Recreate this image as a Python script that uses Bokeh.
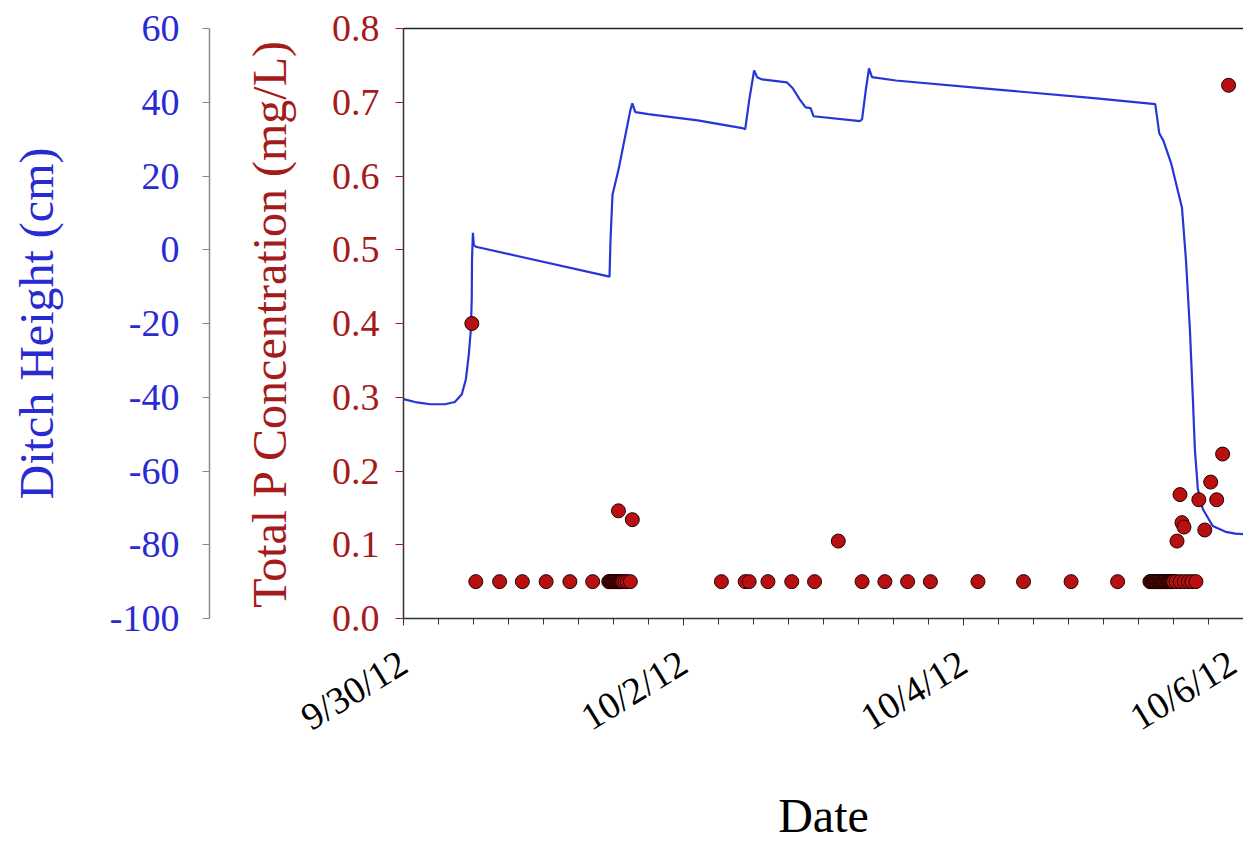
import pandas as pd
from bokeh.plotting import figure
from bokeh.models import Range1d, LinearAxis, FixedTicker, PrintfTickFormatter
from bokeh.embed import file_html
from bokeh.resources import INLINE

# ---------------- data ----------------
# x values: hours since 9/30/12 00:00
ditch_hours = [0.0, 2.0, 4.6, 7.1, 8.8, 10.0, 10.7, 11.2, 11.55, 11.7, 11.75, 11.9, 12.06, 12.4,
               35.33, 35.5, 35.84, 36.86, 38.22, 38.9, 39.24, 39.75, 41.95, 50.45, 58.09,
               58.6, 59.28, 60.13, 60.64, 61.49, 65.73, 66.75, 67.94, 68.96, 69.81, 70.32,
               78.3, 78.64, 79.32, 79.83, 80.34, 84.42, 101.4, 118.39, 128.92, 129.6,
               130.28, 131.63, 133.5, 134.18, 134.86, 135.37, 135.71, 136.22, 137.07,
               138.77, 140.98, 142.67, 144.05]
ditch_cm = [-40.5, -41.3, -41.9, -41.9, -41.3, -39.2, -35.1, -28.4, -21.6, -13.5, -2.7, 4.6, 1.3, 0.8,
            -7.3, 2.7, 14.9, 21.6, 32.4, 37.8, 39.7, 37.3, 36.8, 35.1, 33.0,
            32.7, 40.5, 48.6, 46.8, 46.2, 45.4, 43.8, 40.8, 38.6, 38.4, 36.2,
            34.9, 35.4, 43.8, 49.2, 46.8, 45.9, 43.5, 41.1, 39.5, 31.6,
            29.7, 23.5, 11.4, -2.7, -21.6, -40.5, -54.1, -64.9, -70.3,
            -74.9, -76.5, -77.0, -77.1]

tp_hours = [11.72, 12.4, 16.48, 20.38, 24.46, 28.53, 32.44,
            35.2, 35.35, 35.5, 35.65, 35.8, 35.95, 36.1, 36.25, 36.4, 36.55, 36.7, 36.85, 37.0,
            37.15, 37.3, 37.45, 37.6, 38.0, 38.4, 38.9,
            36.86, 39.24,
            54.52, 58.6, 59.28, 62.5, 66.58, 70.49, 74.56, 78.64, 82.55, 86.45, 90.36,
            98.51, 106.33, 114.48, 122.46,
            128.0, 128.15, 128.3, 128.45, 128.6, 128.75, 128.9, 129.05, 129.2, 129.35, 129.5,
            129.65, 129.8, 129.95, 130.1, 130.25, 130.4, 130.55, 130.7, 130.85, 131.0,
            131.15, 131.3, 131.45, 131.6, 131.75, 131.9, 132.05,
            132.5, 133.2, 133.9, 134.6, 135.2, 135.9,
            132.65, 133.16, 133.5, 133.84, 136.39, 137.41, 138.43, 139.45, 140.47, 141.49]
tp_conc = [0.40, 0.05, 0.05, 0.05, 0.05, 0.05, 0.05,
           0.05, 0.05, 0.05, 0.05, 0.05, 0.05, 0.05, 0.05, 0.05, 0.05, 0.05, 0.05, 0.05,
           0.05, 0.05, 0.05, 0.05, 0.05, 0.05, 0.05,
           0.146, 0.134,
           0.05, 0.05, 0.05, 0.05, 0.05, 0.05, 0.105, 0.05, 0.05, 0.05, 0.05,
           0.05, 0.05, 0.05, 0.05,
           0.05, 0.05, 0.05, 0.05, 0.05, 0.05, 0.05, 0.05, 0.05, 0.05, 0.05,
           0.05, 0.05, 0.05, 0.05, 0.05, 0.05, 0.05, 0.05, 0.05, 0.05,
           0.05, 0.05, 0.05, 0.05, 0.05, 0.05, 0.05,
           0.05, 0.05, 0.05, 0.05, 0.05, 0.05,
           0.105, 0.168, 0.130, 0.124, 0.161, 0.120, 0.185, 0.161, 0.223, 0.723]

date_tick_hours = [0, 48, 96, 144]
date_tick_labels = ["9/30/12", "10/2/12", "10/4/12", "10/6/12"]
tp_ticks = [0.0, 0.1, 0.2, 0.3, 0.4, 0.5, 0.6, 0.7, 0.8]
ditch_ticks = [-100, -80, -60, -40, -20, 0, 20, 40, 60]

# ---------------- styling ----------------
FONT = "Liberation Serif"
RED = "#a51a1a"
BLUE = "#2a2ad2"
LINE_BLUE = "#2536d8"

p = figure(width=1243, height=844, output_backend="svg", toolbar_location=None,
           x_range=Range1d(0, 144.05), y_range=Range1d(0, 0.8),
           min_border_left=403, min_border_right=0, min_border_top=28,
           min_border_bottom=224)
p.extra_y_ranges = {"ditch": Range1d(-100, 60)}
p.background_fill_color = "white"
p.border_fill_color = "white"
p.outline_line_color = None
p.xgrid.visible = False
p.ygrid.visible = False

# x axis
xa = p.xaxis[0]
xa.ticker = FixedTicker(ticks=date_tick_hours,
                        minor_ticks=[6 * i for i in range(25)])
xa.major_label_overrides = {h: lab for h, lab in zip(date_tick_hours, date_tick_labels)}
xa.major_label_orientation = 0.55
xa.major_label_text_font = FONT
xa.major_label_text_font_size = "38px"
xa.major_label_text_color = "black"
xa.major_label_standoff = 34
xa.axis_line_color = "#333333"
xa.axis_line_width = 1.5
xa.major_tick_line_color = "#333333"
xa.minor_tick_line_color = "#333333"
xa.major_tick_out = 7
xa.major_tick_in = 0
xa.minor_tick_out = 6
xa.minor_tick_in = 0
xa.axis_label = "Date"
xa.axis_label_text_font = FONT
xa.axis_label_text_font_size = "48px"
xa.axis_label_text_font_style = "normal"
xa.axis_label_text_color = "black"
xa.axis_label_standoff = 30

# inner y axis: Total P
ya = p.yaxis[0]
ya.ticker = FixedTicker(ticks=tp_ticks, minor_ticks=[])
ya.formatter = PrintfTickFormatter(format="%.1f")
ya.major_label_text_font = FONT
ya.major_label_text_font_size = "38px"
ya.major_label_text_color = RED
ya.major_label_standoff = 16
ya.axis_line_color = "#333333"
ya.axis_line_width = 1.5
ya.major_tick_line_color = RED
ya.major_tick_out = 8
ya.major_tick_in = 0
ya.axis_label = "Total P Concentration (mg/L)"
ya.axis_label_text_font = FONT
ya.axis_label_text_font_size = "48px"
ya.axis_label_text_font_style = "normal"
ya.axis_label_text_color = RED
ya.axis_label_standoff = 33

# spacer between the two left axes
spacer = LinearAxis(y_range_name="ditch", ticker=FixedTicker(ticks=[], minor_ticks=[]),
                    axis_line_color=None, major_tick_line_color=None,
                    minor_tick_line_color=None, major_tick_out=0, major_tick_in=0,
                    minor_tick_out=0, major_label_standoff=0,
                    axis_label=" ", axis_label_text_font_size="10px",
                    axis_label_standoff=16)
p.add_layout(spacer, "left")

# outer y axis: Ditch Height
da = LinearAxis(y_range_name="ditch", ticker=FixedTicker(ticks=ditch_ticks, minor_ticks=[]))
da.formatter = PrintfTickFormatter(format="%d")
da.major_label_text_font = FONT
da.major_label_text_font_size = "38px"
da.major_label_text_color = BLUE
da.major_label_standoff = 23
da.axis_line_color = "#8a8a8a"
da.axis_line_width = 1.5
da.major_tick_line_color = "#8a8a8a"
da.major_tick_out = 7
da.major_tick_in = 0
da.axis_label = "Ditch Height (cm)"
da.axis_label_text_font = FONT
da.axis_label_text_font_size = "48px"
da.axis_label_text_font_style = "normal"
da.axis_label_text_color = BLUE
da.axis_label_standoff = 44
p.add_layout(da, "left")

# top border line
top = LinearAxis(ticker=FixedTicker(ticks=[], minor_ticks=[]), axis_line_color="#222222",
                 axis_line_width=1.5, major_tick_out=0, major_tick_in=0, minor_tick_out=0,
                 major_label_standoff=0)
p.add_layout(top, "above")

p.line(ditch_hours, ditch_cm, y_range_name="ditch", line_color=LINE_BLUE, line_width=2.2)
p.scatter(tp_hours, tp_conc, size=14, fill_color="#b81010", line_color="#200000",
          line_width=1)

open("out.html", "w").write(file_html(p, INLINE))
